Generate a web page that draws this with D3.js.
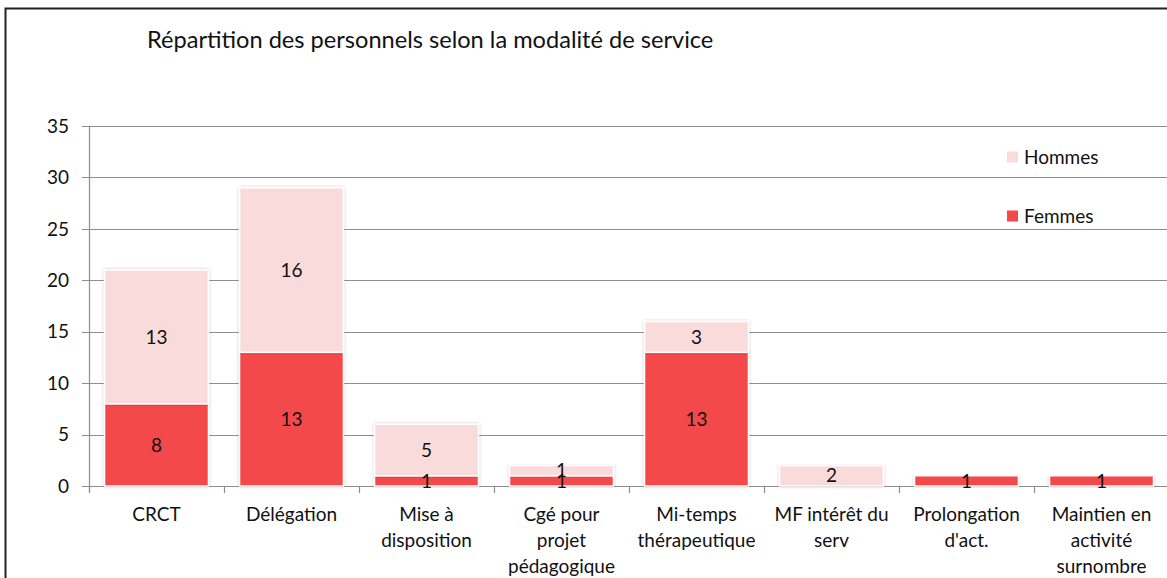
<!DOCTYPE html>
<html>
<head>
<meta charset="utf-8">
<script src="https://cdn.jsdelivr.net/npm/d3@7"></script>
<style>
  body { margin: 0; background: #fff; }
  svg text { font-family: Lato, "Open Sans", sans-serif; fill: #111; }
</style>
</head>
<body>
<script>
var categories = ["CRCT", "Délégation", "Mise à disposition", "Cgé pour projet pédagogique",
                  "Mi-temps thérapeutique", "MF intérêt du serv", "Prolongation d'act.",
                  "Maintien en activité surnombre"];
var catLines = [["CRCT"], ["Délégation"], ["Mise à", "disposition"], ["Cgé pour", "projet", "pédagogique"],
                ["Mi-temps", "thérapeutique"], ["MF intérêt du", "serv"], ["Prolongation", "d'act."],
                ["Maintien en", "activité", "surnombre"]];
var femmes = [8, 13, 1, 1, 13, 0, 1, 1];
var hommes = [13, 16, 5, 1, 3, 2, 0, 0];
var yTicks = [0, 5, 10, 15, 20, 25, 30, 35];
var seriesNames = ["Femmes", "Hommes"];
var colors = {Femmes: "#f4494b", Hommes: "#fadbdc"};

var w = 1167, h = 578;
var plotLeft = 89, plotRight = 1169, plotTop = 126, plotBottom = 486;
var fs = 19;

var svg = d3.select("body").append("svg")
  .attr("width", w).attr("height", h);

var defs = svg.append("defs");
var f = defs.append("filter").attr("id", "shadow")
  .attr("x", "-5%").attr("y", "-5%").attr("width", "110%").attr("height", "115%");
f.append("feDropShadow").attr("dx", 0).attr("dy", 0).attr("stdDeviation", 1.5)
  .attr("flood-color", "#000").attr("flood-opacity", 0.25);

// frame
svg.append("path").attr("d", "M5.5," + h + "V8.5H" + w)
  .attr("fill", "none").attr("stroke", "#222").attr("stroke-width", 2);

var x = d3.scaleBand().domain(d3.range(categories.length))
  .range([plotLeft, plotRight]).paddingInner(0.23).paddingOuter(0.115);
var y = d3.scaleLinear().domain([0, 35]).range([plotBottom, plotTop]);

// gridlines
svg.append("g").selectAll("line").data(yTicks).enter().append("line")
  .attr("x1", plotLeft - 7).attr("x2", w)
  .attr("y1", function(d){ return Math.round(y(d)) + 0.5; })
  .attr("y2", function(d){ return Math.round(y(d)) + 0.5; })
  .attr("stroke", "#8e8e8e").attr("stroke-width", 1.2);

svg.append("g").selectAll("text").data(yTicks).enter().append("text")
  .attr("x", 69).attr("y", function(d){ return y(d); })
  .attr("dy", "0.35em").attr("text-anchor", "end")
  .attr("font-size", fs).text(function(d){ return d; });

// y axis line
svg.append("line").attr("x1", plotLeft + 0.5).attr("x2", plotLeft + 0.5)
  .attr("y1", plotTop).attr("y2", plotBottom + 6).attr("stroke", "#8e8e8e").attr("stroke-width", 1.2);

// category ticks
svg.append("g").selectAll("line").data(d3.range(categories.length + 1)).enter().append("line")
  .attr("x1", function(i){ return Math.round(plotLeft + i * x.step()) + 0.5; })
  .attr("x2", function(i){ return Math.round(plotLeft + i * x.step()) + 0.5; })
  .attr("y1", plotBottom).attr("y2", plotBottom + 7)
  .attr("stroke", "#8e8e8e").attr("stroke-width", 1.2);

// stacked bars
var rows = categories.map(function(c, i){ return {i: i, Femmes: femmes[i], Hommes: hommes[i]}; });
var stack = d3.stack().keys(seriesNames)(rows);

var bars = svg.append("g");
stack.forEach(function(s){
  bars.selectAll(null).data(s.filter(function(d){ return d[1] - d[0] > 0; })).enter().append("rect")
    .attr("x", function(d){ return x(d.data.i); })
    .attr("y", function(d){ return y(d[1]); })
    .attr("width", x.bandwidth())
    .attr("height", function(d){ return y(d[0]) - y(d[1]); })
    .attr("fill", colors[s.key])
    .attr("stroke", "#fff").attr("stroke-width", 1.5)
    .attr("filter", "url(#shadow)");
});

// value labels
stack.forEach(function(s){
  svg.append("g").selectAll("text").data(s.filter(function(d){ return d[1] - d[0] > 0; })).enter().append("text")
    .attr("x", function(d){ return x(d.data.i) + x.bandwidth() / 2; })
    .attr("y", function(d){ return (y(d[0]) + y(d[1])) / 2; })
    .attr("dy", "0.35em").attr("text-anchor", "middle")
    .attr("font-size", fs).text(function(d){ return d[1] - d[0]; });
});

// category labels
var cl = svg.append("g").selectAll("text").data(catLines).enter().append("text")
  .attr("text-anchor", "middle").attr("font-size", fs)
  .attr("transform", function(d, i){ return "translate(" + (x(i) + x.bandwidth() / 2) + ",521)"; });
cl.selectAll("tspan").data(function(d){ return d; }).enter().append("tspan")
  .attr("x", 0).attr("y", function(d, j){ return j * 26; }).text(function(d){ return d; });

// title
svg.append("text").attr("x", 147).attr("y", 48).attr("font-size", 23.6)
  .text("Répartition des personnels selon la modalité de service");

// legend
var legend = svg.append("g").selectAll("g").data(["Hommes", "Femmes"]).enter().append("g")
  .attr("transform", function(d, i){ return "translate(1007," + (157 + i * 59) + ")"; });
legend.append("rect").attr("x", 0).attr("y", -5.5).attr("width", 11).attr("height", 11)
  .attr("fill", function(d){ return colors[d]; });
legend.append("text").attr("x", 17).attr("y", 0).attr("dy", "0.35em")
  .attr("font-size", fs).text(function(d){ return d; });
</script>
</body>
</html>
